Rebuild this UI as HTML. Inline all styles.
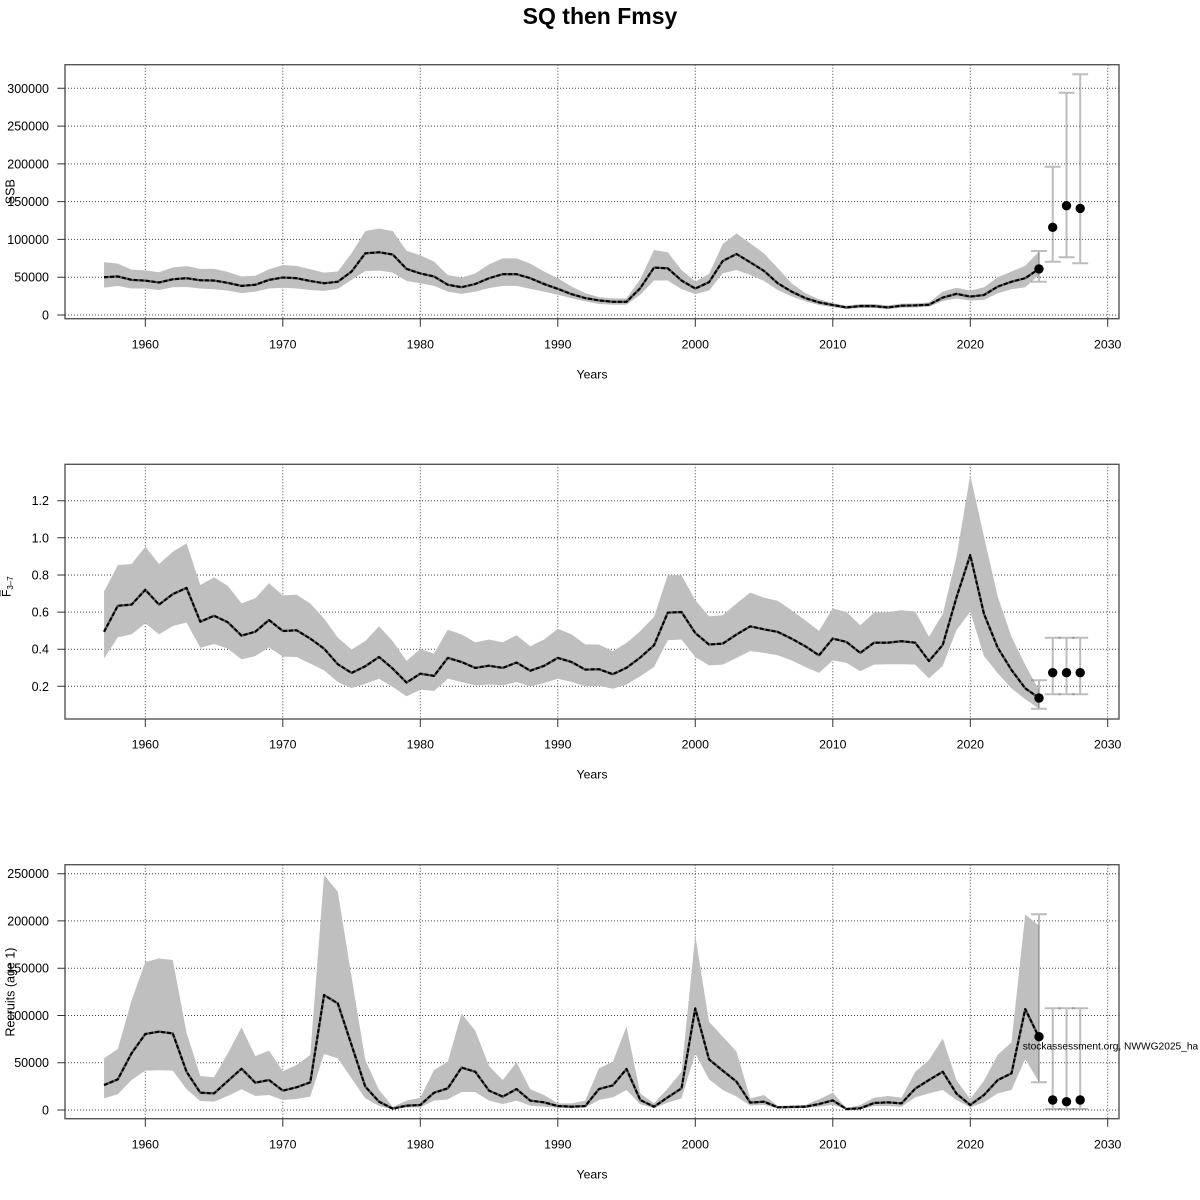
<!DOCTYPE html>
<html><head><meta charset="utf-8"><style>
html,body{margin:0;padding:0;background:#fff;}
svg{display:block;}
text{font-family:"Liberation Sans",Arial,sans-serif;fill:#000;}
</style></head><body>
<svg width="1200" height="1200" viewBox="0 0 1200 1200" xmlns="http://www.w3.org/2000/svg">
<defs>
<clipPath id="c1"><rect x="65" y="64.7" width="1054" height="254"/></clipPath>
<clipPath id="c2"><rect x="65" y="464.3" width="1054" height="254.7"/></clipPath>
<clipPath id="c3"><rect x="65" y="864.7" width="1054" height="254"/></clipPath>
</defs>
<text x="600" y="24" font-size="23" font-weight="bold" text-anchor="middle">SQ then Fmsy</text>

<!-- ============ PANEL 1 ============ -->
<g stroke="#444" stroke-width="1" stroke-dasharray="1 2" fill="none">
<line x1="65" x2="1119" y1="315" y2="315"/><line x1="65" x2="1119" y1="277.2" y2="277.2"/><line x1="65" x2="1119" y1="239.4" y2="239.4"/><line x1="65" x2="1119" y1="201.6" y2="201.6"/><line x1="65" x2="1119" y1="163.9" y2="163.9"/><line x1="65" x2="1119" y1="126.1" y2="126.1"/><line x1="65" x2="1119" y1="88.3" y2="88.3"/>
<line y1="64.7" y2="318.7" x1="145.3" x2="145.3"/><line y1="64.7" y2="318.7" x1="282.8" x2="282.8"/><line y1="64.7" y2="318.7" x1="420.3" x2="420.3"/><line y1="64.7" y2="318.7" x1="557.8" x2="557.8"/><line y1="64.7" y2="318.7" x1="695.3" x2="695.3"/><line y1="64.7" y2="318.7" x1="832.8" x2="832.8"/><line y1="64.7" y2="318.7" x1="970.3" x2="970.3"/><line y1="64.7" y2="318.7" x1="1107.7" x2="1107.7"/>
</g>
<g clip-path="url(#c1)">
<g transform="translate(145.3,315) scale(13.749,-0.7557) translate(-1960,0)">
<polygon fill="#bfbfbf" stroke="none" points="1957,70 1958,68 1959,60 1960,59 1961,56.6 1962,63 1963,64.6 1964,61 1965,61 1966,57 1967,51 1968,52 1969,60.6 1970,66 1971,65 1972,60.5 1973,56 1974,57.5 1975,81.6 1976,111 1977,114.5 1978,111 1979,85 1980,79 1981,70.6 1982,53 1983,49.5 1984,55 1985,67 1986,75 1987,75 1988,68 1989,57.5 1990,48.7 1991,37.7 1992,29 1993,23.7 1994,22 1995,22 1996,47.4 1997,86 1998,83 1999,59.6 2000,44.3 2001,54.4 2002,94 2003,108 2004,94.7 2005,81.6 2006,62 2007,42 2008,29 2009,21 2010,15.8 2011,12.3 2012,14.5 2013,14.5 2014,12.7 2015,15 2016,15.4 2017,16.7 2018,31 2019,36 2020,32.3 2021,36.7 2022,50 2023,57.5 2024,65 2025,84 2025,53 2024,36.7 2023,34 2022,28.8 2021,20 2020,19 2019,22 2018,18.4 2017,11 2016,10 2015,9.6 2014,7.9 2013,9.2 2012,9.2 2011,7.9 2010,10.5 2009,13.2 2008,18 2007,24.6 2006,33 2005,45 2004,53 2003,59.6 2002,55 2001,32.5 2000,27.6 1999,34.2 1998,45.6 1997,45.6 1996,26.8 1995,13.6 1994,13.6 1993,14.5 1992,18 1991,22.4 1990,26.8 1989,31 1988,34.6 1987,38.6 1986,38.6 1985,35.5 1984,31 1983,28 1982,31 1981,38.6 1980,42 1979,45 1978,56 1977,58.8 1976,58 1975,46.5 1974,34.6 1973,32 1972,33 1971,35 1970,36 1969,35 1968,31 1967,29 1966,32.3 1965,34 1964,35 1963,37 1962,36.7 1961,33 1960,35 1959,35 1958,38.5 1957,36"/>
<polyline fill="none" stroke="#555" stroke-width="2.3" vector-effect="non-scaling-stroke" stroke-linejoin="round" points="1957,50 1958,51 1959,46.5 1960,45.5 1961,43 1962,47.3 1963,48.7 1964,46 1965,45.6 1966,42.5 1967,38.5 1968,40 1969,46.5 1970,49.6 1971,48.7 1972,45 1973,42 1974,44 1975,57.5 1976,81.6 1977,83 1978,80 1979,61 1980,55 1981,51 1982,40 1983,36.8 1984,41 1985,48.7 1986,54 1987,54 1988,48.7 1989,41 1990,34.6 1991,27.6 1992,22.4 1993,19.3 1994,17.5 1995,17.5 1996,35.5 1997,62.7 1998,61.8 1999,45.6 2000,35 2001,43.4 2002,71.5 2003,80.7 2004,69.7 2005,58.3 2006,42 2007,31 2008,22.4 2009,16.7 2010,13.2 2011,10 2012,11.8 2013,11.8 2014,10 2015,12.3 2016,12.7 2017,13.6 2018,23 2019,28 2020,24.3 2021,26.5 2022,37.6 2023,44 2024,48.7 2025,61"/>
<polyline fill="none" stroke="#000" stroke-width="2.1" stroke-dasharray="4 2" vector-effect="non-scaling-stroke" stroke-linejoin="round" points="1957,50 1958,51 1959,46.5 1960,45.5 1961,43 1962,47.3 1963,48.7 1964,46 1965,45.6 1966,42.5 1967,38.5 1968,40 1969,46.5 1970,49.6 1971,48.7 1972,45 1973,42 1974,44 1975,57.5 1976,81.6 1977,83 1978,80 1979,61 1980,55 1981,51 1982,40 1983,36.8 1984,41 1985,48.7 1986,54 1987,54 1988,48.7 1989,41 1990,34.6 1991,27.6 1992,22.4 1993,19.3 1994,17.5 1995,17.5 1996,35.5 1997,62.7 1998,61.8 1999,45.6 2000,35 2001,43.4 2002,71.5 2003,80.7 2004,69.7 2005,58.3 2006,42 2007,31 2008,22.4 2009,16.7 2010,13.2 2011,10 2012,11.8 2013,11.8 2014,10 2015,12.3 2016,12.7 2017,13.6 2018,23 2019,28 2020,24.3 2021,26.5 2022,37.6 2023,44 2024,48.7 2025,61"/>
</g>
</g>
<g stroke="rgba(90,90,90,0.4)" stroke-width="2" fill="none">
<path d="M1039,251V281.7M1031,251H1047M1031,281.7H1047"/>
<path d="M1052.7,166.7V261.7M1044.7,166.7H1060.7M1044.7,261.7H1060.7"/>
<path d="M1066.5,92.7V257.3M1058.5,92.7H1074.5M1058.5,257.3H1074.5"/>
<path d="M1080.2,74.3V263.3M1072.2,74.3H1088.2M1072.2,263.3H1088.2"/>
</g>
<g fill="#000">
<circle cx="1039" cy="268.9" r="4.7"/><circle cx="1052.7" cy="227.3" r="4.7"/><circle cx="1066.5" cy="205.7" r="4.7"/><circle cx="1080.2" cy="208.4" r="4.7"/>
</g>
<rect x="65" y="64.7" width="1054" height="254" fill="none" stroke="#555" stroke-width="1.4"/>
<g stroke="#333" stroke-width="1">
<path d="M57.3,315H65M57.3,277.2H65M57.3,239.4H65M57.3,201.6H65M57.3,163.9H65M57.3,126.1H65M57.3,88.3H65"/>
<path d="M145.3,318.7V326.7M282.8,318.7V326.7M420.3,318.7V326.7M557.8,318.7V326.7M695.3,318.7V326.7M832.8,318.7V326.7M970.3,318.7V326.7M1107.7,318.7V326.7"/>
</g>
<g font-size="12.5" text-anchor="end">
<text x="49" y="319.5">0</text><text x="49" y="281.7">50000</text><text x="49" y="243.9">100000</text><text x="49" y="206.1">150000</text><text x="49" y="168.4">200000</text><text x="49" y="130.6">250000</text><text x="49" y="92.8">300000</text>
</g>
<g font-size="12.3" text-anchor="middle">
<text x="145.3" y="348.5">1960</text><text x="282.8" y="348.5">1970</text><text x="420.3" y="348.5">1980</text><text x="557.8" y="348.5">1990</text><text x="695.3" y="348.5">2000</text><text x="832.8" y="348.5">2010</text><text x="970.3" y="348.5">2020</text><text x="1107.7" y="348.5">2030</text>
<text x="592" y="378.5">Years</text>
</g>
<text transform="translate(14.5,191.7) rotate(-90)" font-size="12.5" text-anchor="middle">SSB</text>

<!-- ============ PANEL 2 ============ -->
<g stroke="#444" stroke-width="1" stroke-dasharray="1 2" fill="none">
<line x1="65" x2="1119" y1="686.3" y2="686.3"/><line x1="65" x2="1119" y1="649.2" y2="649.2"/><line x1="65" x2="1119" y1="612.1" y2="612.1"/><line x1="65" x2="1119" y1="575" y2="575"/><line x1="65" x2="1119" y1="537.8" y2="537.8"/><line x1="65" x2="1119" y1="500.7" y2="500.7"/>
<line y1="464.3" y2="719" x1="145.3" x2="145.3"/><line y1="464.3" y2="719" x1="282.8" x2="282.8"/><line y1="464.3" y2="719" x1="420.3" x2="420.3"/><line y1="464.3" y2="719" x1="557.8" x2="557.8"/><line y1="464.3" y2="719" x1="695.3" x2="695.3"/><line y1="464.3" y2="719" x1="832.8" x2="832.8"/><line y1="464.3" y2="719" x1="970.3" x2="970.3"/><line y1="464.3" y2="719" x1="1107.7" x2="1107.7"/>
</g>
<g clip-path="url(#c2)">
<g transform="translate(145.3,723.42) scale(13.749,-185.6) translate(-1960,0)">
<polygon fill="#bfbfbf" stroke="none" points="1957,.71 1958,.853 1959,.859 1960,.952 1961,.859 1962,.925 1963,.97 1964,.746 1965,.787 1966,.742 1967,.647 1968,.674 1969,.755 1970,.69 1971,.694 1972,.646 1973,.565 1974,.462 1975,.398 1976,.444 1977,.523 1978,.443 1979,.337 1980,.401 1981,.376 1982,.505 1983,.48 1984,.437 1985,.452 1986,.437 1987,.475 1988,.416 1989,.452 1990,.51 1991,.48 1992,.425 1993,.425 1994,.389 1995,.434 1996,.497 1997,.574 1998,.798 1999,.798 2000,.664 2001,.577 2002,.583 2003,.646 2004,.705 2005,.678 2006,.66 2007,.61 2008,.556 2009,.498 2010,.619 2011,.6 2012,.529 2013,.597 2014,.6 2015,.61 2016,.604 2017,.467 2018,.59 2019,.898 2020,1.338 2021,1.006 2022,.683 2023,.467 2024,.315 2025,.18 2025,.08 2024,.13 2023,.189 2022,.27 2021,.363 2020,.602 2019,.503 2018,.31 2017,.243 2016,.317 2015,.319 2014,.319 2013,.317 2012,.281 2011,.326 2010,.34 2009,.272 2008,.304 2007,.34 2006,.367 2005,.38 2004,.39 2003,.353 2002,.317 2001,.313 2000,.358 1999,.452 1998,.448 1997,.304 1996,.254 1995,.21 1994,.187 1993,.202 1992,.2 1991,.223 1990,.241 1989,.218 1988,.2 1987,.223 1986,.205 1985,.21 1984,.205 1983,.223 1982,.241 1981,.175 1980,.182 1979,.146 1978,.196 1977,.241 1976,.214 1975,.19 1974,.223 1973,.286 1972,.322 1971,.358 1970,.36 1969,.41 1968,.363 1967,.345 1966,.403 1965,.428 1964,.408 1963,.543 1962,.525 1961,.48 1960,.54 1959,.48 1958,.464 1957,.35"/>
<polyline fill="none" stroke="#555" stroke-width="2.3" vector-effect="non-scaling-stroke" stroke-linejoin="round" points="1957,.494 1958,.634 1959,.64 1960,.72 1961,.64 1962,.697 1963,.73 1964,.548 1965,.58 1966,.545 1967,.473 1968,.494 1969,.557 1970,.498 1971,.502 1972,.457 1973,.403 1974,.319 1975,.272 1976,.308 1977,.358 1978,.295 1979,.22 1980,.268 1981,.256 1982,.353 1983,.331 1984,.299 1985,.311 1986,.299 1987,.328 1988,.284 1989,.31 1990,.353 1991,.331 1992,.29 1993,.292 1994,.265 1995,.3 1996,.355 1997,.421 1998,.597 1999,.6 2000,.487 2001,.425 2002,.43 2003,.479 2004,.523 2005,.507 2006,.493 2007,.457 2008,.416 2009,.367 2010,.457 2011,.439 2012,.38 2013,.435 2014,.435 2015,.443 2016,.435 2017,.336 2018,.423 2019,.679 2020,.907 2021,.59 2022,.408 2023,.288 2024,.189 2025,.137"/>
<polyline fill="none" stroke="#000" stroke-width="2.1" stroke-dasharray="4 2" vector-effect="non-scaling-stroke" stroke-linejoin="round" points="1957,.494 1958,.634 1959,.64 1960,.72 1961,.64 1962,.697 1963,.73 1964,.548 1965,.58 1966,.545 1967,.473 1968,.494 1969,.557 1970,.498 1971,.502 1972,.457 1973,.403 1974,.319 1975,.272 1976,.308 1977,.358 1978,.295 1979,.22 1980,.268 1981,.256 1982,.353 1983,.331 1984,.299 1985,.311 1986,.299 1987,.328 1988,.284 1989,.31 1990,.353 1991,.331 1992,.29 1993,.292 1994,.265 1995,.3 1996,.355 1997,.421 1998,.597 1999,.6 2000,.487 2001,.425 2002,.43 2003,.479 2004,.523 2005,.507 2006,.493 2007,.457 2008,.416 2009,.367 2010,.457 2011,.439 2012,.38 2013,.435 2014,.435 2015,.443 2016,.435 2017,.336 2018,.423 2019,.679 2020,.907 2021,.59 2022,.408 2023,.288 2024,.189 2025,.137"/>
</g>
</g>
<g stroke="rgba(90,90,90,0.4)" stroke-width="2" fill="none">
<path d="M1039,680.3V708.7M1031,680.3H1047M1031,708.7H1047"/>
<path d="M1052.7,637.7V694.3M1044.7,637.7H1060.7M1044.7,694.3H1060.7"/>
<path d="M1066.5,637.7V694.3M1058.5,637.7H1074.5M1058.5,694.3H1074.5"/>
<path d="M1080.2,637.7V694.3M1072.2,637.7H1088.2M1072.2,694.3H1088.2"/>
</g>
<g fill="#000">
<circle cx="1039" cy="698" r="4.7"/><circle cx="1052.7" cy="672.7" r="4.7"/><circle cx="1066.5" cy="672.7" r="4.7"/><circle cx="1080.2" cy="672.7" r="4.7"/>
</g>
<rect x="65" y="464.3" width="1054" height="254.7" fill="none" stroke="#555" stroke-width="1.4"/>
<g stroke="#333" stroke-width="1">
<path d="M57.3,686.3H65M57.3,649.2H65M57.3,612.1H65M57.3,575H65M57.3,537.8H65M57.3,500.7H65"/>
<path d="M145.3,719V727M282.8,719V727M420.3,719V727M557.8,719V727M695.3,719V727M832.8,719V727M970.3,719V727M1107.7,719V727"/>
</g>
<g font-size="12.5" text-anchor="end">
<text x="49" y="690.8">0.2</text><text x="49" y="653.7">0.4</text><text x="49" y="616.6">0.6</text><text x="49" y="579.5">0.8</text><text x="49" y="542.3">1.0</text><text x="49" y="505.2">1.2</text>
</g>
<g font-size="12.3" text-anchor="middle">
<text x="145.3" y="748.5">1960</text><text x="282.8" y="748.5">1970</text><text x="420.3" y="748.5">1980</text><text x="557.8" y="748.5">1990</text><text x="695.3" y="748.5">2000</text><text x="832.8" y="748.5">2010</text><text x="970.3" y="748.5">2020</text><text x="1107.7" y="748.5">2030</text>
<text x="592" y="778.5">Years</text>
</g>
<g transform="translate(10.5,597) rotate(-90)">
<text x="0" y="0" font-size="12">F<tspan font-size="8" dy="2.5">3–7</tspan></text>
<line x1="0.5" x2="7" y1="-10.5" y2="-10.5" stroke="#000" stroke-width="0.9"/>
</g>

<!-- ============ PANEL 3 ============ -->
<g stroke="#444" stroke-width="1" stroke-dasharray="1 2" fill="none">
<line x1="65" x2="1119" y1="1110" y2="1110"/><line x1="65" x2="1119" y1="1062.7" y2="1062.7"/><line x1="65" x2="1119" y1="1015.5" y2="1015.5"/><line x1="65" x2="1119" y1="968.2" y2="968.2"/><line x1="65" x2="1119" y1="920.9" y2="920.9"/><line x1="65" x2="1119" y1="873.7" y2="873.7"/>
<line y1="864.7" y2="1118.7" x1="145.3" x2="145.3"/><line y1="864.7" y2="1118.7" x1="282.8" x2="282.8"/><line y1="864.7" y2="1118.7" x1="420.3" x2="420.3"/><line y1="864.7" y2="1118.7" x1="557.8" x2="557.8"/><line y1="864.7" y2="1118.7" x1="695.3" x2="695.3"/><line y1="864.7" y2="1118.7" x1="832.8" x2="832.8"/><line y1="864.7" y2="1118.7" x1="970.3" x2="970.3"/><line y1="864.7" y2="1118.7" x1="1107.7" x2="1107.7"/>
</g>
<g clip-path="url(#c3)">
<g transform="translate(145.3,1110) scale(13.749,-0.9452) translate(-1960,0)">
<polygon fill="#bfbfbf" stroke="none" points="1957,54.7 1958,64.5 1959,116 1960,156.5 1961,160.4 1962,158.7 1963,81.8 1964,36 1965,34.6 1966,60 1967,87.4 1968,57 1969,62.8 1970,41 1971,47.6 1972,58.2 1973,248.6 1974,231 1975,141 1976,52.9 1977,21.2 1978,3.5 1979,9.9 1980,13 1981,42.3 1982,51 1983,102 1984,84 1985,46.5 1986,31.7 1987,50.4 1988,21.9 1989,15.9 1990,7 1991,7 1992,9.9 1993,44 1994,51 1995,88.2 1996,17.6 1997,7 1998,22.9 1999,40.5 2000,185 2001,93.4 2002,77.6 2003,61.7 2004,12.3 2005,15.9 2006,4.2 2007,4.9 2008,5.3 2009,11.3 2010,18.3 2011,1.8 2012,5.3 2013,13 2014,14.8 2015,13 2016,40.5 2017,52.9 2018,75.8 2019,31.3 2020,11.6 2021,31 2022,58.5 2023,71.6 2024,207 2025,195 2025,29.3 2024,54 2023,21.2 2022,17.6 2021,8.1 2020,2.8 2019,10.6 2018,21.2 2017,17.6 2016,13.4 2015,3.5 2014,4.2 2013,4.2 2012,.7 2011,.7 2010,5.6 2009,3.5 2008,2.1 2007,1.8 2006,1.8 2005,5.3 2004,4.6 2003,14.1 2002,21.2 2001,32.4 2000,60 1999,12.3 1998,7.8 1997,1.8 1996,6 1995,21.2 1994,13.4 1993,10.6 1992,2.5 1991,1.8 1990,2.5 1989,3.5 1988,4.6 1987,9.9 1986,6.3 1985,9.9 1984,19 1983,19 1982,11.3 1981,9.9 1980,2.8 1979,2.5 1978,.7 1977,4.2 1976,12.3 1975,33.5 1974,54.7 1973,59.2 1972,14.1 1971,11.6 1970,10.6 1969,15.9 1968,14.8 1967,21.9 1966,14.8 1965,8.8 1964,9.5 1963,21.9 1962,41.6 1961,42 1960,41.6 1959,31.7 1958,16.6 1957,12.3"/>
<polyline fill="none" stroke="#555" stroke-width="2.3" vector-effect="non-scaling-stroke" stroke-linejoin="round" points="1957,26.4 1958,32.4 1959,60 1960,80.4 1961,82.9 1962,81 1963,40.5 1964,18.3 1965,17.6 1966,30.7 1967,43.7 1968,28.9 1969,31.7 1970,20.5 1971,24 1972,29.3 1973,121.6 1974,112.8 1975,68.8 1976,24.7 1977,8.8 1978,1.4 1979,4.6 1980,5.3 1981,18.3 1982,22.9 1983,44.8 1984,40.5 1985,20.5 1986,14.1 1987,22.2 1988,9.9 1989,8.1 1990,4.2 1991,3.5 1992,4.2 1993,22.2 1994,26 1995,43.4 1996,10.6 1997,3.5 1998,13.4 1999,22.9 2000,107.5 2001,53.6 2002,41.6 2003,30 2004,7.8 2005,8.8 2006,2.8 2007,3.2 2008,3.5 2009,6.3 2010,10.2 2011,1 2012,1.8 2013,7.4 2014,8.1 2015,7 2016,22.6 2017,31.7 2018,40.5 2019,17.3 2020,5.3 2021,15.9 2022,31.7 2023,38.8 2024,106.8 2025,76.9"/>
<polyline fill="none" stroke="#000" stroke-width="2.1" stroke-dasharray="4 2" vector-effect="non-scaling-stroke" stroke-linejoin="round" points="1957,26.4 1958,32.4 1959,60 1960,80.4 1961,82.9 1962,81 1963,40.5 1964,18.3 1965,17.6 1966,30.7 1967,43.7 1968,28.9 1969,31.7 1970,20.5 1971,24 1972,29.3 1973,121.6 1974,112.8 1975,68.8 1976,24.7 1977,8.8 1978,1.4 1979,4.6 1980,5.3 1981,18.3 1982,22.9 1983,44.8 1984,40.5 1985,20.5 1986,14.1 1987,22.2 1988,9.9 1989,8.1 1990,4.2 1991,3.5 1992,4.2 1993,22.2 1994,26 1995,43.4 1996,10.6 1997,3.5 1998,13.4 1999,22.9 2000,107.5 2001,53.6 2002,41.6 2003,30 2004,7.8 2005,8.8 2006,2.8 2007,3.2 2008,3.5 2009,6.3 2010,10.2 2011,1 2012,1.8 2013,7.4 2014,8.1 2015,7 2016,22.6 2017,31.7 2018,40.5 2019,17.3 2020,5.3 2021,15.9 2022,31.7 2023,38.8 2024,106.8 2025,76.9"/>
</g>
</g>
<g stroke="rgba(90,90,90,0.4)" stroke-width="2" fill="none">
<path d="M1039,914.3V1082.3M1031,914.3H1047M1031,1082.3H1047"/>
<path d="M1052.7,1008.3V1109M1044.7,1008.3H1060.7M1044.7,1109H1060.7"/>
<path d="M1066.5,1008.3V1109M1058.5,1008.3H1074.5M1058.5,1109H1074.5"/>
<path d="M1080.2,1008.3V1109M1072.2,1008.3H1088.2M1072.2,1109H1088.2"/>
</g>
<g fill="#000">
<circle cx="1039" cy="1036.7" r="4.7"/><circle cx="1052.7" cy="1100" r="4.7"/><circle cx="1066.5" cy="1101.7" r="4.7"/><circle cx="1080.2" cy="1100" r="4.7"/>
</g>
<rect x="65" y="864.7" width="1054" height="254" fill="none" stroke="#555" stroke-width="1.4"/>
<g stroke="#333" stroke-width="1">
<path d="M57.3,1110H65M57.3,1062.7H65M57.3,1015.5H65M57.3,968.2H65M57.3,920.9H65M57.3,873.7H65"/>
<path d="M145.3,1118.7V1126.7M282.8,1118.7V1126.7M420.3,1118.7V1126.7M557.8,1118.7V1126.7M695.3,1118.7V1126.7M832.8,1118.7V1126.7M970.3,1118.7V1126.7M1107.7,1118.7V1126.7"/>
</g>
<g font-size="12.5" text-anchor="end">
<text x="49" y="1114.5">0</text><text x="49" y="1067.2">50000</text><text x="49" y="1020">100000</text><text x="49" y="972.7">150000</text><text x="49" y="925.4">200000</text><text x="49" y="878.2">250000</text>
</g>
<g font-size="12.3" text-anchor="middle">
<text x="145.3" y="1148.5">1960</text><text x="282.8" y="1148.5">1970</text><text x="420.3" y="1148.5">1980</text><text x="557.8" y="1148.5">1990</text><text x="695.3" y="1148.5">2000</text><text x="832.8" y="1148.5">2010</text><text x="970.3" y="1148.5">2020</text><text x="1107.7" y="1148.5">2030</text>
<text x="592" y="1178.5">Years</text>
</g>
<text transform="translate(14.5,992) rotate(-90)" font-size="12.5" text-anchor="middle">Recruits (age 1)</text>
<text x="1022.7" y="1049.5" font-size="10.2">stockassessment.org, NWWG2025_ha</text>
</svg>
</body></html>
